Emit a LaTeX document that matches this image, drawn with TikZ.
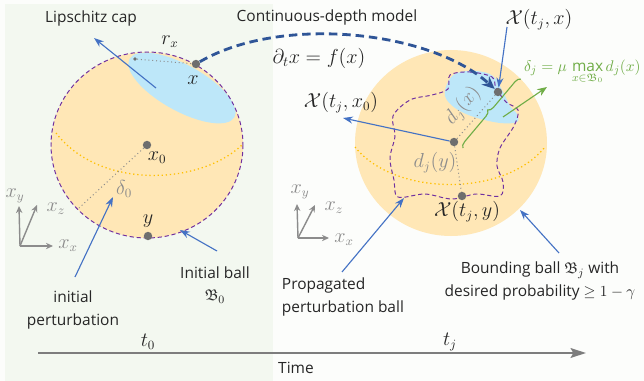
\documentclass[tikz,border=0pt]{standalone}
\usepackage{amsmath, amssymb}
\usepackage{fontspec}
\setmainfont{Open Sans}
\usetikzlibrary{positioning, arrows.meta, calc, decorations.pathreplacing}

\definecolor{bggreen}{RGB}{243,248,240}
\definecolor{bgright}{RGB}{252,253,251}
\definecolor{ballfill}{RGB}{255,231,182}
\definecolor{capfill}{RGB}{189,231,249}
\definecolor{ballborder}{RGB}{112,48,160}
\definecolor{equator}{RGB}{255,192,0}
\definecolor{arrowblue}{RGB}{68,114,196}
\definecolor{flowblue}{RGB}{47,85,151}
\definecolor{deltagreen}{RGB}{112,173,71}
\definecolor{ptgray}{RGB}{110,110,110}
\definecolor{lblgray}{RGB}{140,140,140}
\definecolor{txtdark}{RGB}{38,38,38}

\begin{document}
\begin{tikzpicture}[
  x=0.025cm, y=-0.025cm,
  font=\fontsize{11}{16}\selectfont,
  text=txtdark,
  % Estilos de bolas y puntos
  ballborderline/.style={draw=ballborder, dashed, dash pattern=on 3pt off 2pt, line width=0.7pt},
  equatorline/.style={draw=equator, dotted, line width=0.9pt},
  pt/.style={circle, fill=ptgray, inner sep=0pt, minimum size=6pt},
  smallpt/.style={circle, fill=ptgray, inner sep=0pt, minimum size=2.6pt},
  dist/.style={draw=lblgray, dotted, line width=0.7pt},
  mlbl/.style={font=\fontsize{13.5}{16}\selectfont},
  graylbl/.style={mlbl, text=lblgray},
  % Estilos de flechas
  bluearrow/.style={draw=arrowblue, line width=0.8pt, -{Stealth[length=7pt, width=5pt]}},
  grayarrow/.style={draw=lblgray, line width=1pt, -{Stealth[length=5pt, width=4.5pt]}},
  flowarrow/.style={draw=flowblue, line width=2pt, dash pattern=on 6pt off 3.5pt, -{Stealth[length=9pt, width=8pt]}}
]
  \useasboundingbox (0,0) rectangle (644,381);

  % ==========================================
  % BACKGROUND PANELS
  % ==========================================
  \fill[bgright] (0,0) rectangle (644,381);
  \fill[bggreen] (5,4) rectangle (273,381);

  % ==========================================
  % INITIAL BALL (t_0)
  % ==========================================
  \fill[ballfill] (147,145) ellipse [x radius=96, y radius=93];
  \begin{scope}
    \clip (147,145) ellipse [x radius=96, y radius=93];
    \fill[capfill, rotate around={-29:(182,88)}] (182,88) ellipse [x radius=60, y radius=23];
  \end{scope}
  \draw[equatorline] (56,133) .. controls (100,190) and (200,185) .. (242,145);
  \draw[ballborderline] (147,145) ellipse [x radius=96, y radius=93];

  \node[pt] (x) at (196,64) {};
  \node[smallpt] (xcap) at (135,59) {};
  \draw[dist] (xcap) -- (x);
  \node[mlbl] (rx) at (170,42) {$r_x$};
  \node[mlbl] (xlbl) at (193,80) {$x$};

  \node[pt] (x0) at (147,145) {};
  \node[mlbl] (x0lbl) at (157,158) {$x_0$};
  \coordinate (d0end) at (79,208);
  \draw[dist] (x0) -- (d0end);
  \node[graylbl] (d0) at (124,189) {$\delta_0$};

  \node[pt] (y) at (148,236) {};
  \node[mlbl] (ylbl) at (148,221) {$y$};

  % --- labels of the initial ball ---
  \node (lipcap) at (91,18) {Lipschitz cap};
  \coordinate (capin) at (156,88);
  \coordinate (captip) at (94,38);
  \draw[bluearrow] (capin) -- (captip);

  \node[align=center] (initpert) at (73,310) {initial\\perturbation};
  \coordinate (initpertarr) at (75,277);
  \coordinate (d0mid) at (113,197);
  \draw[bluearrow] (initpertarr) -- (d0mid);

  \node[align=center] (initball) at (215,285) {Initial ball\\$\mathfrak{B}_0$};
  \coordinate (initballarr) at (217,251);
  \coordinate (initballtip) at (180,230);
  \draw[bluearrow] (initballarr) -- (initballtip);

  % ==========================================
  % BOUNDING BALL (t_j)
  % ==========================================
  \fill[ballfill] (451,143) ellipse [x radius=96, y radius=93];
  \draw[equatorline] (355,147) .. controls (395,197) and (505,197) .. (545,147);
  \fill[capfill] plot[smooth cycle, tension=0.6] coordinates {
    (457,73) (476,71) (493,76) (503,92) (510,106) (517,114) (517,122)
    (500,123) (474,117) (455,108) (445,96) (448,82)};
  \draw[ballborderline] plot[smooth cycle, tension=0.55] coordinates {
    (450,75) (470,72) (492,77) (496,88) (506,102) (518,110) (514,126)
    (500,148) (497,166) (503,182) (500,196) (476,194) (452,199) (425,194)
    (398,197) (394,180) (390,158) (395,136) (393,116) (410,100) (432,95)
    (448,89)};

  \node[pt] (Xx) at (498,92) {};
  \node[pt] (Xc) at (454,142) {};
  \node[pt] (Xy) at (462,196) {};
  \draw[dist] (Xc) -- (Xx);
  \draw[dist] (Xc) -- (Xy);
  \node[graylbl, rotate=49] (djx) at (463,106) {$d_j(x)$};
  \node[graylbl] (djy) at (435,163) {$d_j(y)$};

  % --- delta_j brace ---
  \coordinate (brlo) at (463,148);
  \coordinate (brhi) at (521,79);
  \draw[deltagreen, line width=0.8pt, decorate, decoration={brace, amplitude=4pt}] (brlo) -- (brhi);
  \coordinate (gstart) at (503,117);
  \coordinate (gend) at (547,87);
  \draw[draw=deltagreen, line width=0.8pt, -{Stealth[length=7pt, width=5.5pt]}] (gstart) -- (gend);
  \node[font=\fontsize{11}{13}\selectfont, text=deltagreen, anchor=east, inner sep=0pt] (deltaj) at (641,72) {$\delta_j = \mu\,\max\limits_{x\in\mathfrak{B}_0} d_j(x)$};

  % --- labels of the bounding ball ---
  \node[mlbl] (Xxlbl) at (539,20) {$\mathcal{X}(t_j,x)$};
  \coordinate (Xxarr) at (507,27);
  \draw[bluearrow] (Xxarr) -- (Xx);

  \node[mlbl] (Xclbl) at (341,103) {$\mathcal{X}(t_j,x_0)$};
  \coordinate (Xctip) at (343,118);
  \draw[bluearrow] (Xc) -- (Xctip);

  \node[mlbl] (Xylbl) at (467,212) {$\mathcal{X}(t_j,y)$};

  \node[align=left, anchor=west] (propball) at (277,297) {Propagated\\perturbation ball};
  \coordinate (propballarr) at (342,272);
  \coordinate (propballtip) at (404,198);
  \draw[bluearrow] (propballarr) -- (propballtip);

  \node[align=center] (boundball) at (540,281) {Bounding ball $\mathfrak{B}_j$ with\\desired probability $\geq 1-\gamma$};
  \coordinate (boundballarr) at (559,253);
  \coordinate (boundballtip) at (520,210);
  \draw[bluearrow] (boundballarr) -- (boundballtip);

  % ==========================================
  % CONTINUOUS-DEPTH FLOW
  % ==========================================
  \node (cdm) at (327,17) {Continuous-depth model};
  \node[font=\fontsize{14.5}{16}\selectfont] (ode) at (319,58) {$\partial_t x = f(x)$};
  \draw[flowarrow] (x) .. controls (280,15) and (430,30) .. (Xx);

  % ==========================================
  % COORDINATE AXES
  % ==========================================
  \coordinate (ax1) at (20,246);
  \coordinate (ax1x) at (53,246);
  \coordinate (ax1y) at (19,206);
  \coordinate (ax1z) at (37,205);
  \draw[grayarrow] (ax1) -- (ax1x);
  \draw[grayarrow] (ax1) -- (ax1y);
  \draw[grayarrow] (ax1) -- (ax1z);
  \node[graylbl] (ax1xlbl) at (68,246) {$x_x$};
  \node[graylbl] (ax1ylbl) at (15,196) {$x_y$};
  \node[graylbl] (ax1zlbl) at (56,209) {$x_z$};

  \coordinate (ax2) at (298,238);
  \coordinate (ax2x) at (329,238);
  \coordinate (ax2y) at (297,204);
  \coordinate (ax2z) at (315,205);
  \draw[grayarrow] (ax2) -- (ax2x);
  \draw[grayarrow] (ax2) -- (ax2y);
  \draw[grayarrow] (ax2) -- (ax2z);
  \node[graylbl] (ax2xlbl) at (344,240) {$x_x$};
  \node[graylbl] (ax2ylbl) at (300,192) {$x_y$};
  \node[graylbl] (ax2zlbl) at (334,208) {$x_z$};

  % ==========================================
  % TIME AXIS
  % ==========================================
  \coordinate (tstart) at (38,353);
  \coordinate (tend) at (586,353);
  \draw[draw=ptgray!90, line width=1.1pt, -{Stealth[length=11pt, width=7pt, inset=2pt]}] (tstart) -- (tend);
  \node[mlbl] (t0) at (148,342) {$t_0$};
  \node[mlbl] (tj) at (450,342) {$t_j$};
  \node (time) at (296,368) {Time};

\end{tikzpicture}
\end{document}
